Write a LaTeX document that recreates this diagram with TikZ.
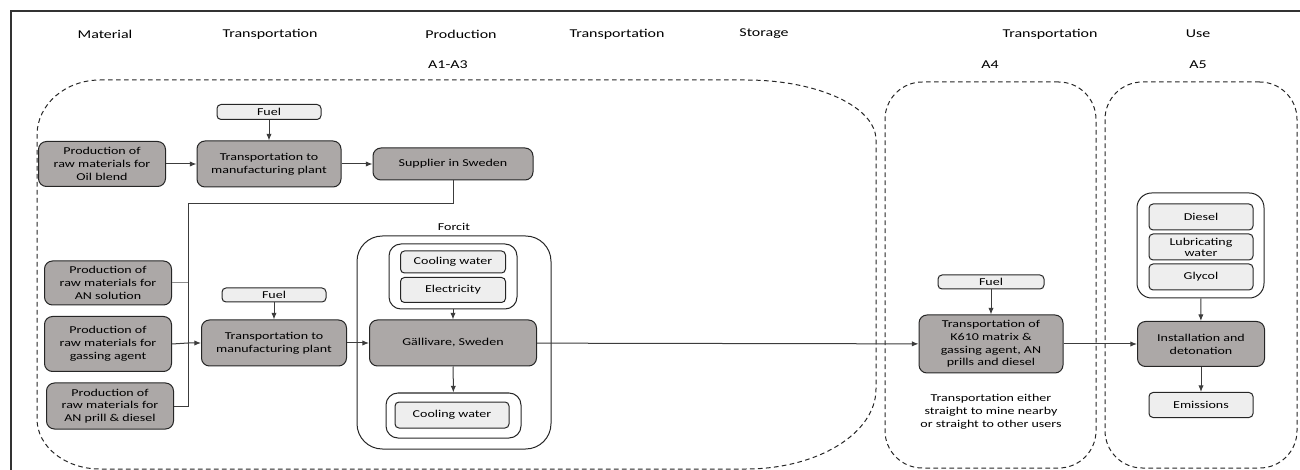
\documentclass[tikz,border=0pt]{standalone}
\usepackage{fontspec}
\setmainfont[FakeStretch=1.33]{Carlito}
\usetikzlibrary{arrows.meta}

\definecolor{procgray}{RGB}{172,168,167}
\definecolor{inputgray}{RGB}{238,238,238}
\definecolor{linegray}{RGB}{60,60,60}

\tikzset{every picture/.style={line width=0.75pt}}
\tikzset{
  procbox/.style={draw=black!85, fill=procgray, rounded corners=6pt, align=center, inner sep=0pt,
    font=\fontsize{7.9pt}{9.6pt}\selectfont},
  inbox/.style={draw=black!85, fill=inputgray, rounded corners=3pt, align=center, inner sep=0pt,
    font=\fontsize{7.9pt}{8.4pt}\selectfont},
  groupbox/.style={draw=black!85, rounded corners=9pt, inner sep=0pt},
  stagebox/.style={draw=black!85, dashed, dash pattern=on 3.5pt off 2.5pt, rounded corners=28pt, inner sep=0pt},
  header/.style={font=\fontsize{9pt}{10pt}\selectfont},
  note/.style={align=center, font=\fontsize{7.9pt}{9.8pt}\selectfont},
  flow/.style={draw=linegray, -{Latex[length=5pt,width=4pt]}},
  feed/.style={draw=linegray}
}

\begin{document}
\begin{tikzpicture}[x=0.75pt,y=0.75pt,yscale=-1,xscale=1]
\useasboundingbox (0,0) rectangle (1300,470);

%Frame
\draw [line width=1.2pt, black!80] (11,480) -- (11,11) -- (1310,11) ;

%Column headers
\node [header] (hmat) at (105,34) {Material};
\node [header] (htrone) at (270,34) {Transportation};
\node [header] (hprod) at (461,34) {Production};
\node [header] (htrtwo) at (617,34) {Transportation};
\node [header] (hstor) at (764,34) {Storage};
\node [header] (htrthree) at (1050,34) {Transportation};
\node [header] (huse) at (1198,34) {Use};
\node [header] (hathree) at (448,65) {A1-A3};
\node [header] (hafour) at (990,65) {A4};
\node [header] (hafive) at (1198,65) {A5};

%Stage A1-A3
\draw [draw=black!85, dash pattern=on 3.5pt off 2.5pt] (100,80) -- (746,80)
  arc [start angle=-90, end angle=0, x radius=130, y radius=60] -- (876,389)
  arc [start angle=0, end angle=90, x radius=130, y radius=80] -- (100,469)
  arc [start angle=90, end angle=180, x radius=63, y radius=50] -- (37,135)
  arc [start angle=180, end angle=270, x radius=63, y radius=55] -- cycle ;
%Stage A4
\node [stagebox, minimum width=158.25pt, minimum height=289.5pt] (stfour) at (990.5,275) {};
%Stage A5
\node [stagebox, minimum width=144pt, minimum height=289.5pt] (stfive) at (1201,275) {};

%Oil blend chain
\node [procbox, minimum width=95.25pt, minimum height=33.75pt] (oil) at (102,164) {Production of\\raw materials for\\Oil blend};
\node [inbox, minimum width=78pt, minimum height=11.25pt] (fuelone) at (269,112) {Fuel};
\node [procbox, minimum width=108pt, minimum height=34.5pt] (trone) at (269,164) {Transportation to\\manufacturing plant};
\node [procbox, minimum width=120pt, minimum height=24pt] (supplier) at (453,164) {Supplier in Sweden};

%Raw materials
\node [procbox, minimum width=95.25pt, minimum height=33pt] (ansol) at (108,283) {Production of\\raw materials for\\AN solution};
\node [procbox, minimum width=95.25pt, minimum height=41.25pt] (gas) at (108,344) {Production of\\raw materials for\\gassing agent};
\node [procbox, minimum width=95.25pt, minimum height=34.5pt] (prill) at (110,406) {Production of\\raw materials for\\AN prill \& diesel};
\node [inbox, minimum width=78pt, minimum height=10.5pt] (fueltwo) at (274,295) {Fuel};
\node [procbox, minimum width=108.75pt, minimum height=34.5pt] (trtwo) at (274,343) {Transportation to\\manufacturing plant};

%Forcit plant
\node [header, font=\fontsize{7.9pt}{9pt}\selectfont] (forcitlbl) at (454,227) {Forcit};
\node [draw=black!85, rounded corners=19pt, minimum width=145.5pt, minimum height=159.75pt] (forcit) at (454,342.5) {};
\node [groupbox, minimum width=96pt, minimum height=48.75pt] (plantin) at (453,276.5) {};
\node [inbox, minimum width=78.75pt, minimum height=16.5pt] (coolone) at (453,262) {Cooling water};
\node [inbox, minimum width=78.75pt, minimum height=18.75pt] (elec) at (453,290) {Electricity};
\node [procbox, minimum width=125.25pt, minimum height=34.5pt] (gall) at (453,343) {Gällivare, Sweden};
\node [groupbox, minimum width=101.25pt, minimum height=33.75pt] (plantout) at (453.5,415.5) {};
\node [inbox, minimum width=85.5pt, minimum height=19.5pt] (cooltwo) at (452,415) {Cooling water};

%A4
\node [inbox, minimum width=79.5pt, minimum height=10.5pt] (fuelthree) at (991,282) {Fuel};
\node [procbox, minimum width=108pt, minimum height=43.5pt] (trfour) at (991,344) {Transportation of\\K610 matrix \&\\gassing agent, AN\\prills and diesel};
\node [note] (trnote) at (991,412) {Transportation either\\straight to mine nearby\\or straight to other users};

%A5
\node [groupbox, rounded corners=11pt, minimum width=95.25pt, minimum height=78.75pt] (usein) at (1200.5,245.5) {};
\node [inbox, minimum width=78pt, minimum height=19.5pt] (diesel) at (1201,217) {Diesel};
\node [inbox, minimum width=78pt, minimum height=19.5pt] (lub) at (1201,247) {Lubricating\\water};
\node [inbox, minimum width=78pt, minimum height=19.5pt] (glycol) at (1201,277) {Glycol};
\node [procbox, minimum width=95.25pt, minimum height=33.75pt] (inst) at (1201,344) {Installation and\\detonation};
\node [inbox, minimum width=78pt, minimum height=18.75pt] (emis) at (1201,405) {Emissions};

%Connectors
\coordinate (bend) at (188,204) ;
\coordinate (joint) at (188,343) ;
\draw [flow] (oil) -- (trone) ;
\draw [flow] (fuelone) -- (trone) ;
\draw [flow] (trone) -- (supplier) ;
\draw [feed] (supplier.south) |- (bend) -- (joint) ;
\draw [feed, draw=black!45] (ansol.east) -- (ansol.east -| joint) ;
\draw [feed] (prill.east) -| (joint) ;
\draw [flow] (gas.east) -- (joint) -- (trtwo.west) ;
\draw [flow] (fueltwo) -- (trtwo) ;
\draw [flow] (trtwo) -- (gall) ;
\draw [flow] (plantin) -- (gall) ;
\draw [flow] (gall) -- (plantout) ;
\draw [flow] (gall) -- (trfour) ;
\draw [flow] (fuelthree) -- (trfour) ;
\draw [flow] (trfour) -- (inst) ;
\draw [flow] (usein) -- (inst) ;
\draw [flow] (inst) -- (emis) ;

\end{tikzpicture}
\end{document}
